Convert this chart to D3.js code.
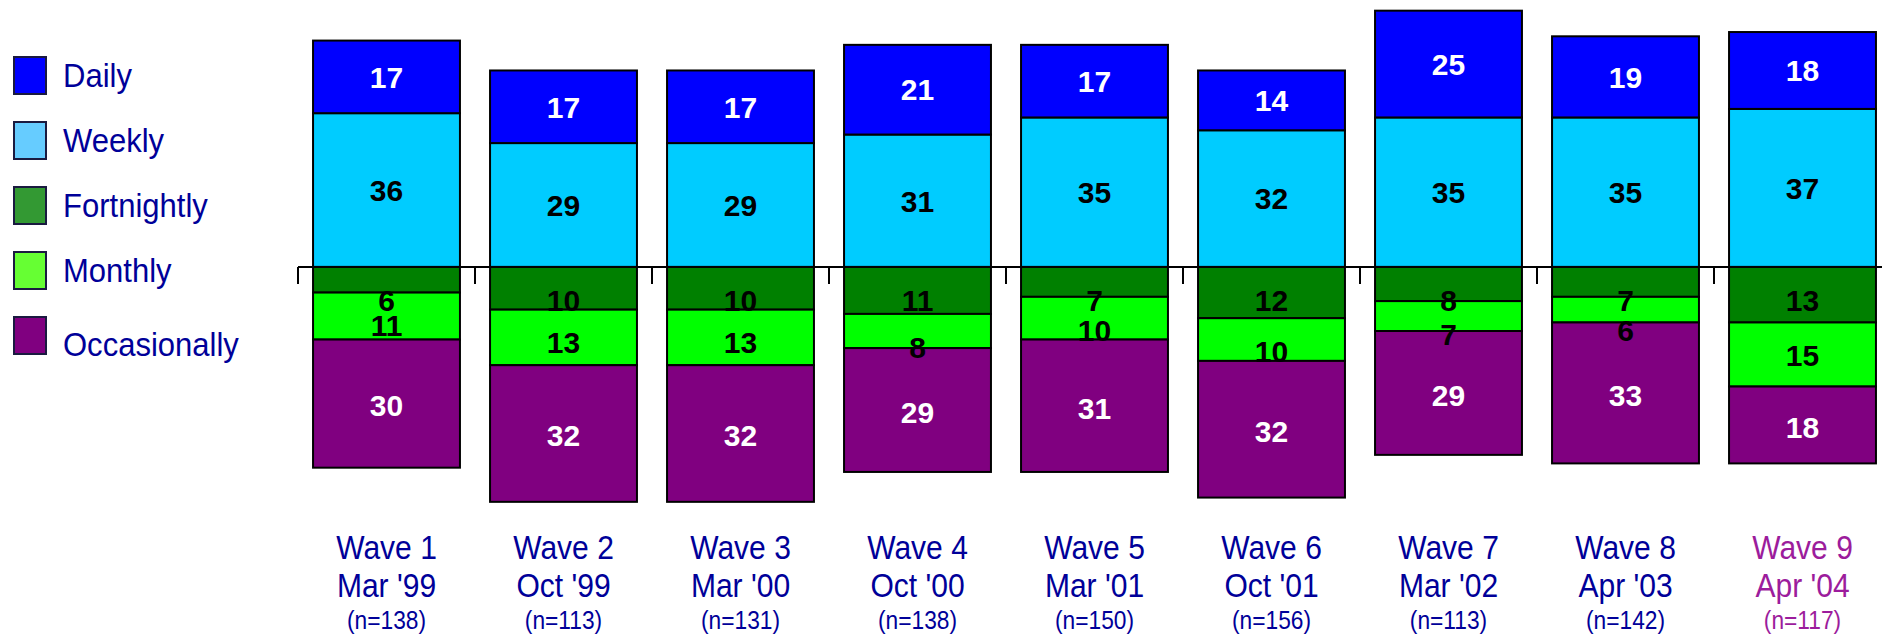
<!DOCTYPE html>
<html>
<head>
<meta charset="utf-8">
<script src="https://cdn.jsdelivr.net/npm/d3@7"></script>
<style>
  body { margin: 0; background: #fff; }
  #chart text { font-family: "Liberation Sans", Arial, sans-serif; }
</style>
</head>
<body>
<div id="chart"></div>
<script>
// chart data
var waves = ["Wave 1", "Wave 2", "Wave 3", "Wave 4", "Wave 5", "Wave 6", "Wave 7", "Wave 8", "Wave 9"];
var dates = ["Mar '99", "Oct '99", "Mar '00", "Oct '00", "Mar '01", "Oct '01", "Mar '02", "Apr '03", "Apr '04"];
var sampleSizes = [138, 113, 131, 138, 150, 156, 113, 142, 117];
var seriesNames = ["Daily", "Weekly", "Fortnightly", "Monthly", "Occasionally"];
var daily = [17, 17, 17, 21, 17, 14, 25, 19, 18];
var weekly = [36, 29, 29, 31, 35, 32, 35, 35, 37];
var fortnightly = [6, 10, 10, 11, 7, 12, 8, 7, 13];
var monthly = [11, 13, 13, 8, 10, 10, 7, 6, 15];
var occasionally = [30, 32, 32, 29, 31, 32, 29, 33, 18];

// bar fill, legend fill, label colour for each series
var barColors = ["#0000ff", "#00ccff", "#008000", "#00ff00", "#800080"];
var legendColors = ["#0000ff", "#66ccff", "#339933", "#66ff33", "#800080"];
var labelColors = ["#fff", "#000", "#000", "#000", "#fff"];

var width = 1882, height = 635;
var svg = d3.select("#chart")
  .append("svg")
    .attr("width", width)
    .attr("height", height);

// scales
var x = d3.scaleBand()
  .domain(waves)
  .range([298, 1891])
  .paddingInner(0.17)
  .paddingOuter(0.085);
var y = d3.scaleLinear()
  .domain([-60, 62.5])
  .range([523.2, 0]);

// build the segments: positives stack up from zero, negatives stack down
var values = [daily, weekly, fortnightly, monthly, occasionally];
var segments = [];
waves.forEach(function(w, i) {
  var up = weekly[i];
  segments.push({wave: w, s: 1, v: weekly[i], y0: 0, y1: weekly[i]});
  segments.push({wave: w, s: 0, v: daily[i], y0: up, y1: up + daily[i]});
  var down = 0;
  [2, 3, 4].forEach(function(s) {
    var v = values[s][i];
    segments.push({wave: w, s: s, v: v, y0: -down, y1: -(down + v)});
    down += v;
  });
});

svg.selectAll(".seg")
  .data(segments)
  .enter()
  .append("rect")
    .attr("x", function(d) { return x(d.wave); })
    .attr("width", x.bandwidth())
    .attr("y", function(d) { return y(Math.max(d.y0, d.y1)); })
    .attr("height", function(d) { return Math.abs(y(d.y0) - y(d.y1)); })
    .attr("fill", function(d) { return barColors[d.s]; })
    .attr("stroke", "#000")
    .attr("stroke-width", 2);

// value labels: fortnightly / monthly sit near the top edge of their block
svg.selectAll(".val")
  .data(segments)
  .enter()
  .append("text")
    .attr("x", function(d) { return x(d.wave) + x.bandwidth() / 2; })
    .attr("y", function(d) {
      if (d.s == 2 || d.s == 3) return y(d.y0) + 33;
      if (d.s == 4) return (y(d.y0) + y(d.y1)) / 2 + 2;
      return (y(d.y0) + y(d.y1)) / 2;
    })
    .attr("dy", "0.36em")
    .attr("text-anchor", "middle")
    .attr("font-size", 30)
    .attr("font-weight", "bold")
    .attr("fill", function(d) { return labelColors[d.s]; })
    .text(function(d) { return d.v; });

// zero line with ticks at the band boundaries
var half = x.step() * x.paddingInner() / 2;
svg.append("line")
  .attr("x1", x(waves[0]) - half).attr("x2", width)
  .attr("y1", y(0)).attr("y2", y(0))
  .attr("stroke", "#000").attr("stroke-width", 2);
svg.selectAll(".tick")
  .data(waves)
  .enter()
  .append("line")
    .attr("x1", function(d) { return x(d) - half; })
    .attr("x2", function(d) { return x(d) - half; })
    .attr("y1", y(0)).attr("y2", y(0) + 17)
    .attr("stroke", "#000").attr("stroke-width", 2);

// category labels under the bars (slightly condensed like the original)
var cats = svg.selectAll(".cat")
  .data(waves)
  .enter()
  .append("text")
    .attr("text-anchor", "middle")
    .attr("fill", function(d, i) { return i == waves.length - 1 ? "#9c1c9c" : "#000099"; })
    .attr("transform", function(d) { return "translate(" + (x(d) + x.bandwidth() / 2) + ",0) scale(0.91,1)"; });
cats.append("tspan").attr("x", 0).attr("y", 559).attr("font-size", 33)
  .text(function(d) { return d; });
cats.append("tspan").attr("x", 0).attr("y", 597).attr("font-size", 33)
  .text(function(d, i) { return dates[i]; });
cats.append("tspan").attr("x", 0).attr("y", 629).attr("font-size", 25)
  .text(function(d, i) { return "(n=" + sampleSizes[i] + ")"; });

// legend
var legend = svg.selectAll(".legend")
  .data(seriesNames)
  .enter()
  .append("g")
    .attr("transform", function(d, i) { return "translate(14," + (57 + i * 65) + ")"; });
legend.append("rect")
  .attr("width", 32).attr("height", 37)
  .attr("fill", function(d, i) { return legendColors[i]; })
  .attr("stroke", "#1a1a40").attr("stroke-width", 2);
legend.append("text")
  .attr("transform", function(d, i) { return "translate(49," + (i == 4 ? 39 : 30) + ") scale(0.94,1)"; })
  .attr("font-size", 33)
  .attr("fill", "#000099")
  .text(function(d) { return d; });
</script>
</body>
</html>
